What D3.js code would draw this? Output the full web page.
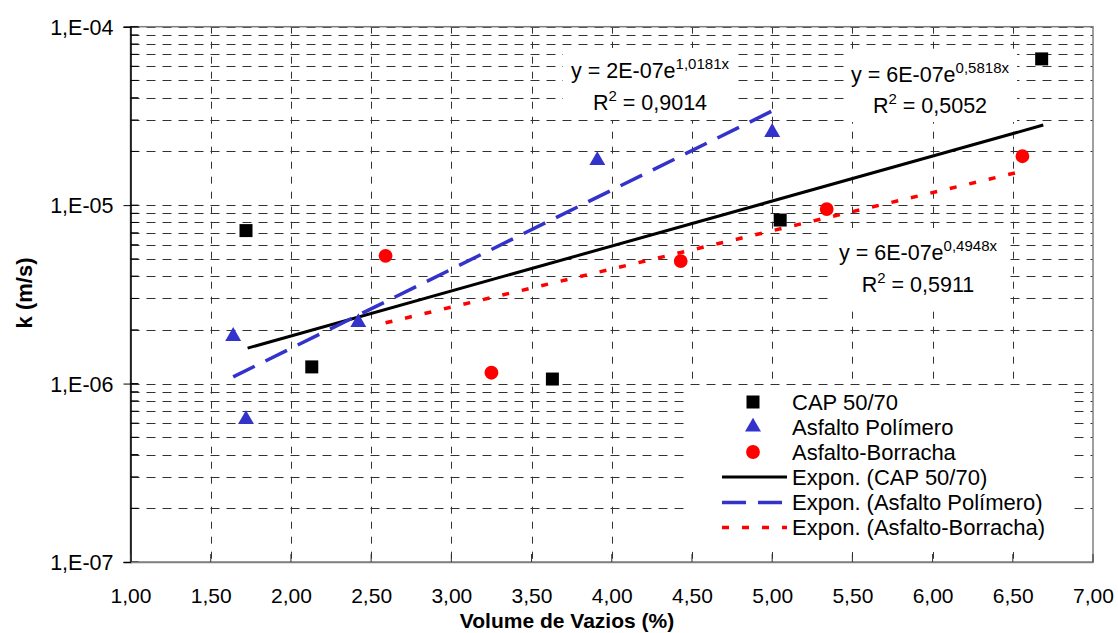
<!DOCTYPE html>
<html>
<head>
<meta charset="utf-8">
<script src="https://cdn.jsdelivr.net/npm/d3@7"></script>
<style>
  body { margin: 0; background: #fff; }
  svg { display: block; }
  text { font-family: "Liberation Sans", Arial, sans-serif; fill: #000; }
</style>
</head>
<body>
<script>
// data
const capX = [1.72, 2.13, 3.63, 5.05, 6.68];
const capK = [7.2e-6, 1.24e-6, 1.06e-6, 8.25e-6, 6.6e-5];
const polX = [1.64, 1.72, 2.42, 3.91, 5.00];
const polK = [1.84e-6, 6.3e-7, 2.2e-6, 1.78e-5, 2.56e-5];
const borX = [2.59, 3.25, 4.43, 5.34, 6.56];
const borK = [5.2e-6, 1.15e-6, 4.86e-6, 9.5e-6, 1.88e-5];

// trendline end points (straight on log axis)
const trendCapX = [1.73, 6.69], trendCapK = [1.58e-6, 2.81e-5];
const trendPolX = [1.64, 5.00], trendPolK = [1.09e-6, 3.37e-5];
const trendBorX = [2.59, 6.56], trendBorK = [2.19e-6, 1.55e-5];

const xTicks = [1, 1.5, 2, 2.5, 3, 3.5, 4, 4.5, 5, 5.5, 6, 6.5, 7];
const yTicks = [1e-7, 1e-6, 1e-5, 1e-4];
const yTickLabels = ["1,E-07", "1,E-06", "1,E-05", "1,E-04"];

const seriesNames = ["CAP 50/70", "Asfalto Polímero", "Asfalto-Borracha",
  "Expon. (CAP 50/70)", "Expon. (Asfalto Polímero)", "Expon. (Asfalto-Borracha)"];

const eqBase = ["y = 2E-07e", "y = 6E-07e", "y = 6E-07e"];
const eqExp = ["1,0181x", "0,5818x", "0,4948x"];
const eqR2 = ["0,9014", "0,5052", "0,5911"];

const width = 1118, height = 633;
const plotLeft = 130.5, plotRight = 1093, plotTop = 26.7, plotBottom = 562;
const blue = "#3333cc", red = "#ff0000";

const svg = d3.select("body").append("svg")
  .attr("width", width).attr("height", height);

const x = d3.scaleLinear().domain([1, 7]).range([plotLeft, plotRight]);
const y = d3.scaleLog().domain([1e-7, 1e-4]).range([plotBottom, plotTop]);

// minor log values for gridlines
var gridY = [];
[1e-7, 1e-6, 1e-5].forEach(function(dec) {
  for (var m = 1; m <= 9; m++) gridY.push(dec * m);
});
gridY.push(1e-4);

const grid = svg.append("g");
grid.selectAll(".hg").data(gridY.filter(function(v) { return v > 1e-7; }))
  .enter().append("line")
  .attr("x1", plotLeft).attr("x2", plotRight)
  .attr("y1", function(d) { return Math.round(y(d)) + 0.5; })
  .attr("y2", function(d) { return Math.round(y(d)) + 0.5; })
  .attr("stroke", "#333").attr("stroke-width", 1)
  .attr("stroke-dasharray", "9,7");

grid.selectAll(".vg").data(xTicks.slice(1, -1))
  .enter().append("line")
  .attr("x1", function(d) { return Math.round(x(d)) + 0.5; })
  .attr("x2", function(d) { return Math.round(x(d)) + 0.5; })
  .attr("y1", plotTop).attr("y2", plotBottom)
  .attr("stroke", "#333").attr("stroke-width", 1)
  .attr("stroke-dasharray", "7,8");

// white boxes behind equations and legend
const boxes = [[563, 48, 174, 72], [845, 52, 172, 70], [832, 228, 178, 77], [690, 385, 382, 167]];
svg.append("g").selectAll("rect").data(boxes).enter().append("rect")
  .attr("x", function(d) { return d[0]; }).attr("y", function(d) { return d[1]; })
  .attr("width", function(d) { return d[2]; }).attr("height", function(d) { return d[3]; })
  .attr("fill", "#fff");

// plot border
svg.append("rect")
  .attr("x", plotLeft).attr("y", plotTop)
  .attr("width", plotRight - plotLeft).attr("height", plotBottom - plotTop)
  .attr("fill", "none").attr("stroke", "#808080").attr("stroke-width", 1.5);

// y axis
const yAxis = d3.axisLeft(y).tickValues(yTicks).tickSize(7)
  .tickFormat(function(d, i) { return yTickLabels[i]; });
const gy = svg.append("g").attr("transform", "translate(" + plotLeft + ",0)").call(yAxis);
gy.select(".domain").attr("stroke", "#000").attr("stroke-width", 1.5);
gy.selectAll(".tick line").attr("stroke", "#000");
gy.selectAll(".tick text").attr("font-size", 21.5).attr("font-family", "Liberation Sans, Arial, sans-serif")
  .attr("x", -17).attr("dy", "0.36em");
// minor inside ticks
svg.append("g").selectAll("line").data(gridY).enter().append("line")
  .attr("x1", plotLeft).attr("x2", plotLeft + 8)
  .attr("y1", function(d) { return y(d); }).attr("y2", function(d) { return y(d); })
  .attr("stroke", "#000").attr("stroke-width", 1);

// x axis
const xAxis = d3.axisBottom(x).tickValues(xTicks).tickSize(0)
  .tickFormat(function(d) { return d3.format(".2f")(d).replace(".", ","); });
const gx = svg.append("g").attr("transform", "translate(0," + plotBottom + ")").call(xAxis);
gx.select(".domain").attr("stroke", "#808080").attr("stroke-width", 1.5);
gx.selectAll(".tick text").attr("font-size", 21).attr("font-family", "Liberation Sans, Arial, sans-serif")
  .attr("y", 41).attr("dy", 0);
svg.append("g").selectAll("line").data(xTicks).enter().append("line")
  .attr("x1", function(d) { return x(d); }).attr("x2", function(d) { return x(d); })
  .attr("y1", plotBottom - 8).attr("y2", plotBottom)
  .attr("stroke", "#333").attr("stroke-width", 1);

// axis titles
svg.append("text").attr("x", 567).attr("y", 628)
  .attr("text-anchor", "middle").attr("font-size", 21).attr("font-weight", "bold")
  .text("Volume de Vazios (%)");
svg.append("text").attr("transform", "translate(32,293) rotate(-90)")
  .attr("text-anchor", "middle").attr("font-size", 22).attr("font-weight", "bold")
  .text("k (m/s)");

// trendlines
const line = d3.line().x(function(d) { return x(d[0]); }).y(function(d) { return y(d[1]); });
const trends = [
  { xs: trendCapX, ks: trendCapK, color: "#000", dash: null, w: 3 },
  { xs: trendPolX, ks: trendPolK, color: blue, dash: "24,12", w: 3.5 },
  { xs: trendBorX, ks: trendBorK, color: red, dash: "7,13", w: 3.5 }
];
trends.forEach(function(t) {
  svg.append("path")
    .datum(d3.zip(t.xs, t.ks))
    .attr("d", line)
    .attr("fill", "none")
    .attr("stroke", t.color)
    .attr("stroke-width", t.w)
    .attr("stroke-dasharray", t.dash);
});

// markers
const sq = d3.symbol().type(d3.symbolSquare).size(169);
const tri = d3.symbol().type(d3.symbolTriangle).size(110);
const circ = d3.symbol().type(d3.symbolCircle).size(150);
const series = [
  { xs: capX, ks: capK, sym: sq, color: "#000" },
  { xs: polX, ks: polK, sym: tri, color: blue },
  { xs: borX, ks: borK, sym: circ, color: red }
];
series.forEach(function(s) {
  svg.append("g").selectAll("path").data(d3.zip(s.xs, s.ks)).enter().append("path")
    .attr("d", s.sym)
    .attr("transform", function(d) { return "translate(" + x(d[0]) + "," + y(d[1]) + ")"; })
    .attr("fill", s.color);
});

// equations
const eqPos = [[650, 78, 110], [930, 82, 113], [918, 260, 292]];
eqPos.forEach(function(p, i) {
  var t1 = svg.append("text").attr("x", p[0]).attr("y", p[1])
    .attr("text-anchor", "middle").attr("font-size", 21.5);
  t1.append("tspan").text(eqBase[i]);
  t1.append("tspan").attr("font-size", 15).attr("dy", -9).text(eqExp[i]);
  var t2 = svg.append("text").attr("x", p[0]).attr("y", p[2])
    .attr("text-anchor", "middle").attr("font-size", 21.5);
  t2.append("tspan").text("R");
  t2.append("tspan").attr("font-size", 15).attr("dy", -9).text("2");
  t2.append("tspan").attr("dy", 9).text(" = " + eqR2[i]);
});

// legend
const lg = svg.append("g");
const rowY = [402, 427, 452, 477, 502.5, 527.5];
const legendSyms = [sq, tri, circ];
const legendColors = ["#000", blue, red];
seriesNames.forEach(function(name, i) {
  if (i < 3) {
    lg.append("path").attr("d", legendSyms[i])
      .attr("transform", "translate(753," + rowY[i] + ")")
      .attr("fill", legendColors[i]);
  } else {
    var t = trends[i - 3];
    lg.append("line").attr("x1", 722).attr("x2", 787)
      .attr("y1", rowY[i]).attr("y2", rowY[i])
      .attr("stroke", t.color).attr("stroke-width", t.w)
      .attr("stroke-dasharray", t.dash);
  }
  lg.append("text").attr("x", 792).attr("y", rowY[i] + 7.5)
    .attr("font-size", 22).text(name);
});
</script>
</body>
</html>
